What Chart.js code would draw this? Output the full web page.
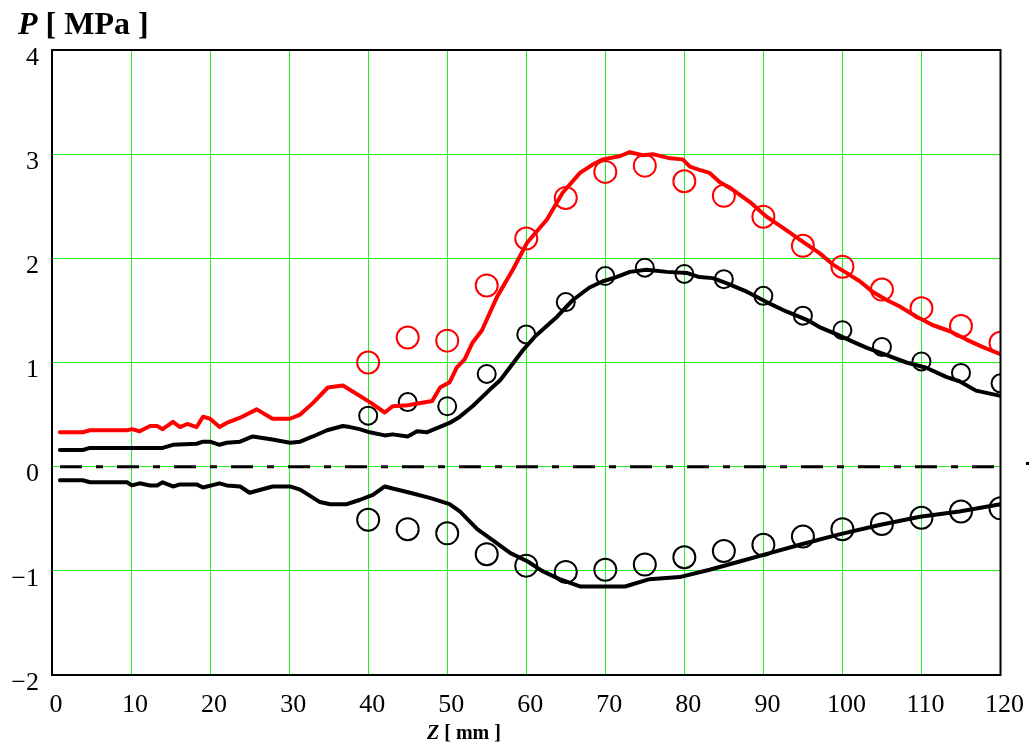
<!DOCTYPE html>
<html>
<head>
<meta charset="utf-8">
<script src="https://cdn.jsdelivr.net/npm/chart.js@4"></script>
<style>
  html, body { margin: 0; padding: 0; background: #fff; }
  #wrap { position: relative; width: 1035px; height: 747px; }
  canvas { position: absolute; left: 0; top: 0; }
  .t { position: absolute; font-family: "Liberation Serif", "Times New Roman", serif; font-weight: bold; color: #000; white-space: pre; }
</style>
</head>
<body>
<div id="wrap">
  <canvas id="c" width="1035" height="747"></canvas>
  <div class="t" style="left:18px; top:5px; font-size:32px;"><i>P</i> [ MPa ]</div>
  <div class="t" style="left:427px; top:721px; font-size:20px;"><i>Z</i> [ mm ]</div>
  <div style="position:absolute; left:1026px; top:462px; width:3px; height:3px; background:#000;"></div>
</div>
<script>
// ---- data ----
const redLineZ = [1,3.9,4.8,9.5,10.1,11.1,12.4,13.3,14,15.3,16.2,17.1,18.3,19.1,20,21.2,22.1,23.8,25.9,27.9,30.1,31.4,33,34.9,36.8,38.1,40.2,42.1,43.1,45,48.1,49.1,50.3,51.2,52.2,53.2,54.4,56.3,58.3,60.1,62.6,64.6,66.8,68.4,69.7,71.8,73.1,74.7,76,78.2,79.8,80.7,81.9,83.2,84.5,86.1,88.3,90.4,92.9,94.6,97.1,98.8,100.5,102.2,103.8,105.6,107.2,109.4,111.4,113.6,115.7,117.7,120];
const redLineP = [0.33,0.33,0.35,0.35,0.36,0.34,0.39,0.39,0.36,0.43,0.38,0.41,0.38,0.48,0.46,0.38,0.42,0.47,0.55,0.46,0.46,0.50,0.61,0.76,0.78,0.72,0.62,0.52,0.58,0.59,0.63,0.76,0.81,0.95,1.03,1.19,1.31,1.63,1.89,2.15,2.37,2.63,2.82,2.90,2.95,2.98,3.02,2.99,3.00,2.96,2.95,2.88,2.85,2.82,2.73,2.66,2.54,2.40,2.27,2.18,2.05,1.94,1.86,1.78,1.68,1.60,1.54,1.44,1.36,1.30,1.22,1.15,1.08];

const upperLineZ = [1,3.9,4.8,14,15.3,18.3,19.1,20,21.2,22.1,23.8,25.4,27.9,30.1,31.4,33,34.8,36.8,37.7,38.9,40.2,42.1,43.1,45,46.2,47.4,48.7,50.3,51.6,53.2,55.4,56.7,57.9,59.6,61.1,63.9,65.9,68,69.7,71.4,73.1,75.2,77.8,80.3,81.9,83.6,85.4,87.9,90.4,92.9,95.5,97.1,99.3,101.3,103.1,105.6,108.1,110.6,113.2,114.8,116.9,120];
const upperLineP = [0.16,0.16,0.18,0.18,0.21,0.22,0.24,0.24,0.21,0.23,0.24,0.29,0.26,0.23,0.24,0.29,0.35,0.39,0.38,0.36,0.33,0.30,0.31,0.29,0.34,0.33,0.37,0.42,0.48,0.58,0.74,0.83,0.95,1.12,1.25,1.44,1.60,1.72,1.78,1.82,1.87,1.89,1.87,1.86,1.82,1.81,1.76,1.68,1.58,1.49,1.41,1.34,1.27,1.20,1.14,1.07,1.00,0.95,0.86,0.82,0.73,0.68];

const lowerLineZ = [1,3.9,4.8,9.5,10.1,11.1,12.4,13.3,14,15.3,16.2,18.3,19.1,21.2,22.1,23.8,25,27.9,30.1,31.4,33.9,35.2,37.3,38.9,40.6,42.1,43.1,45.3,47.8,50.3,51.6,52.9,53.8,56,58,60.2,62,64.2,66.8,69.3,72.5,75.6,79.4,83.2,87,90.8,94.6,99.6,104.7,109.8,114.8,120];
const lowerLineP = [-0.13,-0.13,-0.15,-0.15,-0.18,-0.16,-0.18,-0.18,-0.15,-0.19,-0.17,-0.17,-0.20,-0.16,-0.18,-0.19,-0.25,-0.19,-0.19,-0.22,-0.34,-0.36,-0.36,-0.32,-0.27,-0.19,-0.21,-0.25,-0.30,-0.36,-0.43,-0.53,-0.60,-0.72,-0.83,-0.91,-1.00,-1.08,-1.15,-1.15,-1.15,-1.08,-1.06,-0.99,-0.91,-0.83,-0.75,-0.65,-0.56,-0.48,-0.43,-0.36];

const measZ = [40,45,50,55,60,65,70,75,80,85,90,95,100,105,110,115,120];
const redMeasP = [1.00,1.24,1.21,1.74,2.19,2.58,2.83,2.89,2.74,2.60,2.40,2.12,1.92,1.70,1.52,1.35,1.19];
const upperMeasP = [0.49,0.62,0.58,0.89,1.27,1.58,1.83,1.91,1.85,1.80,1.64,1.45,1.31,1.15,1.01,0.90,0.80];
const lowerMeasP = [-0.51,-0.60,-0.64,-0.84,-0.95,-1.01,-0.99,-0.94,-0.87,-0.81,-0.75,-0.67,-0.60,-0.55,-0.49,-0.43,-0.40];

const zeroZ = [0,120];
const zeroP = [0,0];

const xTicks = [0,10,20,30,40,50,60,70,80,90,100,110,120];
const yTicks = [-2,-1,0,1,2,3,4];

// ---- build ----
const pts = (xs, ys) => xs.map((x, i) => ({x: x, y: ys[i]}));
const RED = '#ff0000', BLACK = '#000000', GRID = '#22ee22';

const lineDs = (xs, ys, color, order) => ({
  data: pts(xs, ys), showLine: true, borderColor: color, borderWidth: 4,
  pointRadius: 0, pointHoverRadius: 0, fill: false, tension: 0, order: order,
  borderJoinStyle: 'round', borderCapStyle: 'round'
});
const markDs = (xs, ys, color, r, order) => ({
  data: pts(xs, ys), showLine: false, pointStyle: 'circle', pointRadius: r,
  pointBorderWidth: 2, pointBorderColor: color, pointBackgroundColor: 'rgba(0,0,0,0)',
  borderColor: color, backgroundColor: 'rgba(0,0,0,0)', order: order
});

const frame = {
  id: 'frame',
  afterDatasetsDraw(chart) {
    const a = chart.chartArea, ctx = chart.ctx;
    ctx.save();
    ctx.strokeStyle = '#000';
    ctx.lineWidth = 2;
    ctx.strokeRect(a.left, a.top, a.right - a.left, a.bottom - a.top);
    ctx.restore();
  }
};

new Chart(document.getElementById('c'), {
  type: 'scatter',
  data: {
    datasets: [
      Object.assign(lineDs(zeroZ, zeroP, BLACK, 5), {borderWidth: 3, borderDash: [22,14,7,14], borderDashOffset: 49, borderCapStyle: 'butt'}),
      lineDs(redLineZ, redLineP, RED, 1),
      lineDs(upperLineZ, upperLineP, BLACK, 2),
      lineDs(lowerLineZ, lowerLineP, BLACK, 3),
      markDs(measZ, redMeasP, RED, 11, 6),
      markDs(measZ, upperMeasP, BLACK, 9, 7),
      markDs(measZ, lowerMeasP, BLACK, 11, 8)
    ]
  },
  options: {
    responsive: false,
    animation: false,
    devicePixelRatio: 1,
    layout: { padding: { left: 0, top: 50, right: 34, bottom: 0 } },
    plugins: { legend: { display: false }, tooltip: { enabled: false }, title: { display: false } },
    events: [],
    scales: {
      x: {
        type: 'linear', min: 0, max: 120,
        afterFit(s) { s.height = 72; },
        afterBuildTicks(s) { s.ticks = xTicks.map(v => ({value: v})); },
        ticks: { color: '#000', padding: 15, labelOffset: 4, maxRotation: 0, autoSkip: false,
                 font: { family: '"Liberation Serif", "Times New Roman", serif', size: 26 } },
        grid: { color: GRID, lineWidth: 1, drawTicks: false },
        border: { display: true, color: '#000', width: 2 }
      },
      y: {
        type: 'linear', min: -2, max: 4,
        afterFit(s) { s.width = 52; },
        afterBuildTicks(s) { s.ticks = yTicks.map(v => ({value: v})); },
        ticks: { color: '#000', padding: 13, labelOffset: 8, autoSkip: false,
                 callback: v => String(v).replace('-', '\u2212'),
                 font: { family: '"Liberation Serif", "Times New Roman", serif', size: 26 } },
        grid: { color: GRID, lineWidth: 1, drawTicks: false },
        border: { display: true, color: '#000', width: 2 }
      }
    }
  },
  plugins: [frame]
});
</script>
</body>
</html>
